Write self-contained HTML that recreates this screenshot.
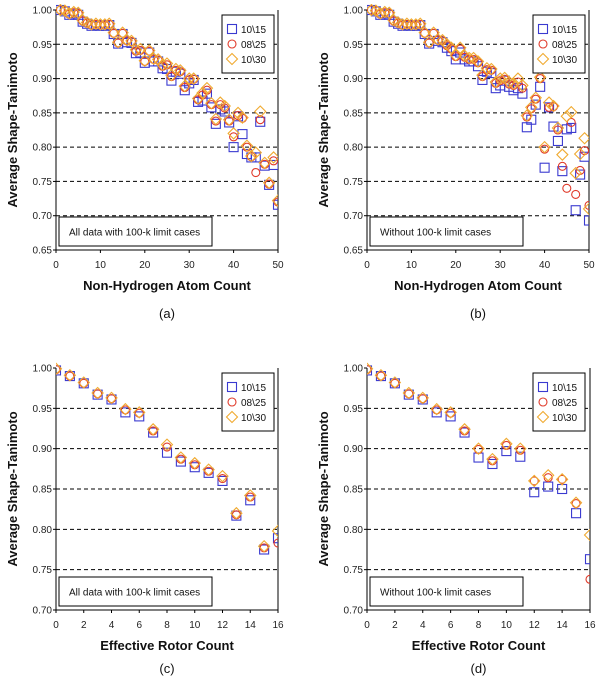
<!DOCTYPE html>
<html><head><meta charset="utf-8"><style>
body{margin:0;background:#fff;}
svg{display:block;font-family:"Liberation Sans",Arial,sans-serif;}
</style></head><body>
<svg id="fig" width="600" height="685" viewBox="0 0 600 685" xmlns="http://www.w3.org/2000/svg"></svg>
<script>
// ---- data ----
const atomX = [1,2,3,4,5,6,7,8,9,10,11,12,13,14,15,16,17,18,19,20,21,22,23,24,25,26,27,28,29,30,31,32,33,34,35,36,37,38,39,40,41,42,43,44,45,46,47,48,49,50];
const a1015 = [1.0,0.998,0.993,0.995,0.993,0.983,0.98,0.977,0.978,0.977,0.977,0.978,0.965,0.951,0.965,0.953,0.952,0.937,0.938,0.923,0.938,0.925,0.925,0.915,0.914,0.897,0.91,0.907,0.883,0.893,0.898,0.866,0.868,0.878,0.858,0.834,0.855,0.852,0.836,0.80,0.845,0.819,0.79,0.785,0.785,0.837,0.773,0.745,0.774,0.716];
const a0825 = [1.0,0.999,0.994,0.996,0.995,0.984,0.981,0.978,0.979,0.978,0.978,0.979,0.966,0.952,0.966,0.955,0.954,0.94,0.941,0.925,0.94,0.928,0.927,0.918,0.92,0.903,0.912,0.91,0.887,0.898,0.899,0.869,0.876,0.883,0.862,0.838,0.862,0.857,0.838,0.815,0.846,0.842,0.80,0.786,0.763,0.84,0.775,0.746,0.78,0.72];
const a1030 = [1.0,0.999,0.995,0.997,0.996,0.985,0.982,0.979,0.98,0.979,0.979,0.98,0.967,0.953,0.967,0.956,0.955,0.942,0.943,0.926,0.941,0.929,0.928,0.92,0.922,0.905,0.914,0.912,0.889,0.9,0.9,0.871,0.879,0.886,0.864,0.841,0.865,0.86,0.84,0.82,0.85,0.843,0.802,0.787,0.792,0.852,0.777,0.748,0.785,0.722];
const b1015 = [1.0,0.998,0.993,0.995,0.993,0.983,0.98,0.977,0.978,0.977,0.977,0.978,0.965,0.951,0.965,0.955,0.953,0.945,0.94,0.928,0.938,0.928,0.925,0.925,0.918,0.898,0.91,0.908,0.886,0.89,0.897,0.888,0.883,0.886,0.878,0.829,0.84,0.862,0.888,0.77,0.858,0.83,0.809,0.765,0.826,0.828,0.708,0.76,0.786,0.693];
const b0825 = [1.0,0.999,0.994,0.996,0.995,0.984,0.981,0.978,0.979,0.978,0.978,0.979,0.966,0.952,0.966,0.956,0.955,0.948,0.943,0.932,0.943,0.931,0.928,0.928,0.923,0.903,0.913,0.912,0.893,0.897,0.899,0.892,0.89,0.895,0.886,0.844,0.856,0.87,0.9,0.797,0.858,0.859,0.825,0.772,0.74,0.836,0.731,0.766,0.795,0.715];
const b1030 = [1.0,0.999,0.995,0.997,0.996,0.985,0.982,0.979,0.98,0.979,0.979,0.98,0.967,0.953,0.967,0.957,0.956,0.95,0.945,0.934,0.945,0.933,0.93,0.93,0.925,0.905,0.915,0.914,0.895,0.9,0.901,0.895,0.893,0.9,0.89,0.846,0.858,0.872,0.902,0.80,0.865,0.86,0.828,0.789,0.845,0.851,0.762,0.79,0.813,0.71];
const rotX = [0,1,2,3,4,5,6,7,8,9,10,11,12,13,14,15,16];
const c1015 = [0.997,0.99,0.981,0.967,0.961,0.945,0.94,0.92,0.895,0.884,0.877,0.87,0.86,0.817,0.836,0.775,0.789];
const c0825 = [0.998,0.99,0.981,0.968,0.962,0.948,0.944,0.922,0.902,0.887,0.88,0.872,0.863,0.818,0.84,0.777,0.783];
const c1030 = [0.999,0.991,0.982,0.969,0.963,0.949,0.945,0.924,0.905,0.889,0.882,0.874,0.866,0.82,0.842,0.779,0.798];
const d1015 = [0.997,0.99,0.981,0.967,0.961,0.945,0.94,0.92,0.889,0.881,0.897,0.89,0.846,0.853,0.85,0.82,0.763];
const d0825 = [0.998,0.99,0.981,0.968,0.962,0.948,0.944,0.922,0.899,0.885,0.904,0.898,0.86,0.864,0.862,0.832,0.738];
const d1030 = [0.999,0.991,0.982,0.969,0.963,0.949,0.945,0.924,0.9,0.887,0.906,0.9,0.86,0.867,0.862,0.833,0.793];
const seriesNames = ["10\\15","08\\25","10\\30"];
const topYTicks = ["0.65","0.70","0.75","0.80","0.85","0.90","0.95","1.00"];
const botYTicks = ["0.70","0.75","0.80","0.85","0.90","0.95","1.00"];
const atomXTicks = [0,10,20,30,40,50];
const rotXTicks = [0,2,4,6,8,10,12,14,16];

const NS="http://www.w3.org/2000/svg";
const svg=document.getElementById('fig');
function mk(tag,attrs,parent){const e=document.createElementNS(NS,tag);for(const k in attrs)e.setAttribute(k,attrs[k]);(parent||svg).appendChild(e);return e;}
const colors=["#3a3ad0","#e03a2a","#f0aa30"];

function marker(g,type,x,y){
  let e;
  if(type===0){e=mk('rect',{x:x-4.5,y:y-4.5,width:9,height:9,fill:'none',stroke:colors[0],'stroke-width':1.1},g);}
  else if(type===1){e=mk('circle',{cx:x,cy:y,r:4,fill:'none',stroke:colors[1],'stroke-width':1.1},g);}
  else {e=mk('path',{d:`M${x} ${y-5.5}L${x+5.5} ${y}L${x} ${y+5.5}L${x-5.5} ${y}Z`,fill:'none',stroke:colors[2],'stroke-width':1.1},g);}
  return e;
}

function panel(id,L,R,T,B,xmin,xmax,ymin,ymax,xTicks,yTicks,xs,series,xTitle,note,letter){
  const g=mk('g',{});
  
  
  const sx=v=>L+(v-xmin)/(xmax-xmin)*(R-L);
  const sy=v=>B-(v-ymin)/(ymax-ymin)*(B-T);
  // gridlines
  yTicks.forEach(t=>{const v=parseFloat(t);
    if(v>ymin&&v<ymax){const ln=mk('line',{x1:L,x2:R,y1:sy(v),y2:sy(v),stroke:'#000','stroke-width':1,'stroke-dasharray':'4,3'},g);
      }
    const tl=mk('text',{x:L-4,y:sy(v)+3.5,'text-anchor':'end','font-size':10,fill:'#222'},g);tl.textContent=t;
    
    mk('line',{x1:L-3,x2:L,y1:sy(v),y2:sy(v),stroke:'#000'},g);
  });
  xTicks.forEach(v=>{
    mk('line',{x1:sx(v),x2:sx(v),y1:B,y2:B+3,stroke:'#000'},g);
    const tl=mk('text',{x:sx(v),y:B+18,'text-anchor':'middle','font-size':10,fill:'#222'},g);tl.textContent=v;
    
  });
  // axes
  const ax=mk('path',{d:`M${L} ${T}V${B}H${R}V${T}`,fill:'none',stroke:'#000','stroke-width':1},g);
  
  // note box
  const nb=mk('g',{},g);
  const nh=note.h;
  mk('rect',{x:L+3,y:B-nh-4,width:153,height:nh,fill:'#fff',stroke:'#000','stroke-width':1},nb);
  const nt=mk('text',{x:L+13,y:B-4-nh/2+4,'font-size':10,fill:'#111'},nb);nt.textContent=note.t;
  // data
  const clipId='clip'+id;
  const cp=mk('clipPath',{id:clipId},g);mk('rect',{x:L,y:T-6,width:R-L,height:B-T+6},cp);
  const dg=mk('g',{'clip-path':`url(#${clipId})`},g);
  series.forEach((vals,si)=>{
    const sg=mk('g',{},dg);
    
    
    vals.forEach((v,i)=>{const m=marker(sg,si,sx(xs[i]),sy(v));
      
      });
  });
  // legend
  const lg=mk('g',{},g);
  const lx=L+166,ly=T+5;
  mk('rect',{x:lx,y:ly,width:52,height:58,fill:'#fff',stroke:'#000','stroke-width':1},lg);
  seriesNames.forEach((n,i)=>{
    const yy=ly+14+i*15;
    const m=marker(lg,i,lx+10,yy);
    const t=mk('text',{x:lx+19,y:yy+4,'font-size':10,fill:'#111'},lg);t.textContent=n;
    
  });
  // titles
  const xt=mk('text',{x:(L+R)/2,y:B+40,'text-anchor':'middle','font-size':13,'font-weight':'bold',fill:'#111'},g);
  xt.textContent=xTitle;
  const yt=mk('text',{x:0,y:0,'text-anchor':'middle','font-size':13,'font-weight':'bold',fill:'#111',transform:`translate(${L-39},${(T+B)/2}) rotate(-90)`},g);
  yt.textContent='Average Shape-Tanimoto';
  const pl=mk('text',{x:(L+R)/2,y:letter.y,'text-anchor':'middle','font-size':13,fill:'#111'},g);
  pl.textContent=letter.t;
}

panel('a',56,278,10,250,0,50,0.65,1.0,atomXTicks,topYTicks,atomX,[a1015,a0825,a1030],'Non-Hydrogen Atom Count',{t:'All data with 100-k limit cases',h:29},{t:'(a)',y:318});
panel('b',367,589,10,250,0,50,0.65,1.0,atomXTicks,topYTicks,atomX,[b1015,b0825,b1030],'Non-Hydrogen Atom Count',{t:'Without 100-k limit cases',h:29},{t:'(b)',y:318});
panel('c',56,278,368,610,0,16,0.70,1.0,rotXTicks,botYTicks,rotX,[c1015,c0825,c1030],'Effective Rotor Count',{t:'All data with 100-k limit cases',h:29},{t:'(c)',y:673});
panel('d',367,590,368,610,0,16,0.70,1.0,rotXTicks,botYTicks,rotX,[d1015,d0825,d1030],'Effective Rotor Count',{t:'Without 100-k limit cases',h:29},{t:'(d)',y:673});
</script>
</body></html>
